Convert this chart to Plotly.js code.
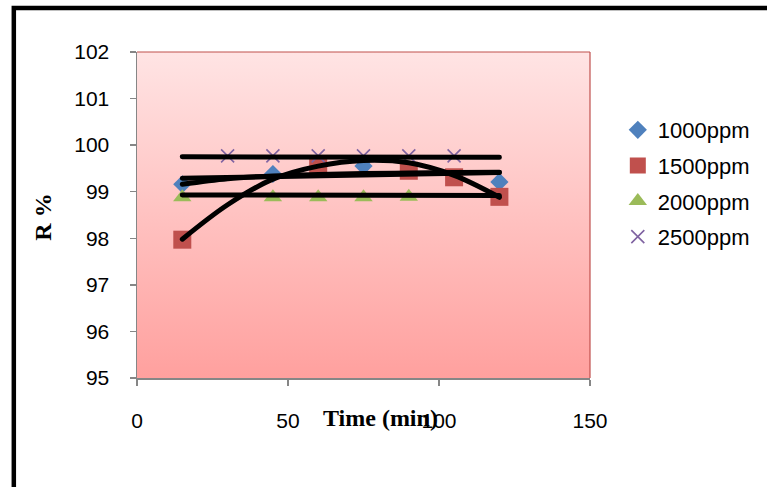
<!DOCTYPE html>
<html>
<head>
<meta charset="utf-8">
<script src="https://cdn.plot.ly/plotly-3.0.1.min.js"></script>
<style>
html,body{margin:0;padding:0;background:#fff;}
#chart{width:767px;height:487px;}
#chart .js-line{stroke-linecap:round;}
</style>
</head>
<body>
<div id="chart"></div>
<script>
// ---- data ----
var seriesNames = ["1000ppm", "1500ppm", "2000ppm", "2500ppm"];

var x1000 = [15, 45, 75, 120];
var y1000 = [99.16, 99.38, 99.55, 99.21];

var x1500 = [15, 60, 90, 105, 120];
var y1500 = [97.97, 99.56, 99.45, 99.31, 98.89];

var x2000 = [15, 45, 60, 75, 90];
var y2000 = [98.88, 98.88, 98.88, 98.88, 98.89];

var x2500 = [30, 45, 60, 75, 90, 105];
var y2500 = [99.77, 99.77, 99.77, 99.77, 99.77, 99.77];

// trendlines as drawn in the reference
var trendX = [15, 120];
var trend2500 = [99.75, 99.74];
var trend2000 = [98.93, 98.92];
var trend1000lin = [99.29, 99.41];

var curveX = [15, 30, 45, 60, 75, 90, 105, 120];
var trend1000log = [99.16, 99.28, 99.34, 99.37, 99.39, 99.40, 99.41, 99.42];
var trend1500poly = [97.98, 98.72, 99.27, 99.55, 99.67, 99.62, 99.35, 98.88];

var xTicks = [0, 50, 100, 150];
var yTicks = [95, 96, 97, 98, 99, 100, 101, 102];

// ---- chart ----
var cBlue = "#4F81BD", cRed = "#C0504D", cGreen = "#9BBB59", cPurple = "#8064A2";

function pts(x, y, name, sym, size, color, extra) {
  var m = {symbol: sym, size: size, color: color, line: {width: 0}};
  if (extra) m.line = extra;
  return {x: x, y: y, name: name, type: "scatter", mode: "markers",
          marker: m, legendgroup: name, cliponaxis: false};
}
function trend(x, y, shape) {
  return {x: x, y: y, type: "scatter", mode: "lines", showlegend: false,
          hoverinfo: "skip", line: {color: "#000", width: 5, shape: shape || "linear", smoothing: 1}};
}

var data = [
  pts(x1000, y1000, seriesNames[0], "diamond", 14, cBlue),
  pts(x1500, y1500, seriesNames[1], "square", 18, cRed),
  pts(x2000, y2000, seriesNames[2], "triangle-up", 16, cGreen),
  pts(x2500, y2500, seriesNames[3], "x-thin-open", 13, cPurple, {width: 1.6, color: cPurple}),
  trend(trendX, trend2500),
  trend(trendX, trend2000),
  trend(trendX, trend1000lin),
  trend(curveX, trend1000log, "spline"),
  trend(curveX, trend1500poly, "spline")
];

var L = 137, R = 593, T = 52, B = 378, W = 767, H = 487;
var pw = R - L, ph = B - T;
function px(x) { return (x - L) / pw; }
function py(y) { return (B - y) / ph; }

var grad = 'data:image/svg+xml;utf8,' + encodeURIComponent(
  '<svg xmlns="http://www.w3.org/2000/svg" width="100" height="100" preserveAspectRatio="none">' +
  '<defs><linearGradient id="g" x1="0" y1="0" x2="0" y2="1">' +
  '<stop offset="0" stop-color="#FFE4E4"/><stop offset="1" stop-color="#FFA09E"/>' +
  '</linearGradient></defs><rect width="100" height="100" fill="url(#g)"/></svg>');

var layout = {
  width: W, height: H,
  margin: {l: L, r: W - R, t: T, b: H - B, pad: 0},
  paper_bgcolor: "#ffffff",
  plot_bgcolor: "rgba(0,0,0,0)",
  font: {family: "Liberation Sans, Arial, sans-serif", size: 21, color: "#000"},
  showlegend: true,
  legend: {x: px(621), y: py(109), xanchor: "left", yanchor: "top",
           font: {size: 22, color: "#000"}, bgcolor: "rgba(0,0,0,0)",
           traceorder: "grouped", tracegroupgap: 4, itemwidth: 30},
  xaxis: {range: [0, 150], tickvals: xTicks, ticktext: xTicks.map(String),
          showgrid: false, zeroline: false, showline: true, linecolor: "#868686", linewidth: 1.5,
          ticks: "outside", ticklen: 6, tickcolor: "#868686", tickwidth: 1.5,
          ticklabelstandoff: 17, fixedrange: true},
  yaxis: {range: [95, 102], tickvals: yTicks, ticktext: yTicks.map(String),
          showgrid: false, zeroline: false, showline: true, linecolor: "#868686", linewidth: 1.5,
          ticks: "outside", ticklen: 6, tickcolor: "#868686", tickwidth: 1.5,
          ticklabelstandoff: 16, fixedrange: true},
  images: [{source: grad, xref: "paper", yref: "paper", x: 0, y: 1, sizex: 1, sizey: 1,
            sizing: "stretch", layer: "below", xanchor: "left", yanchor: "top"}],
  shapes: [
    {type: "line", xref: "paper", yref: "paper", x0: 0, x1: 1, y0: 1, y1: 1,
     line: {color: cRed, width: 1.2}},
    {type: "line", xref: "paper", yref: "paper", x0: 1, x1: 1, y0: 0, y1: 1,
     line: {color: cRed, width: 1.2}},
    {type: "rect", xref: "paper", yref: "paper", x0: px(13), x1: px(820), y0: py(8), y1: py(540),
     line: {color: "#000", width: 4.5}, fillcolor: "rgba(0,0,0,0)"}
  ],
  annotations: [
    {text: "<b>Time (min)</b>", xref: "paper", yref: "paper", x: px(382), y: py(418),
     xanchor: "center", yanchor: "middle", showarrow: false,
     font: {family: "Liberation Serif, Times New Roman, serif", size: 24, color: "#000"}},
    {text: "<b>R %</b>", xref: "paper", yref: "paper", x: px(42), y: py(217), textangle: -90,
     xanchor: "center", yanchor: "middle", showarrow: false,
     font: {family: "Liberation Serif, Times New Roman, serif", size: 24, color: "#000"}}
  ]
};

Plotly.newPlot("chart", data, layout, {displayModeBar: false, staticPlot: true});
</script>
</body>
</html>
